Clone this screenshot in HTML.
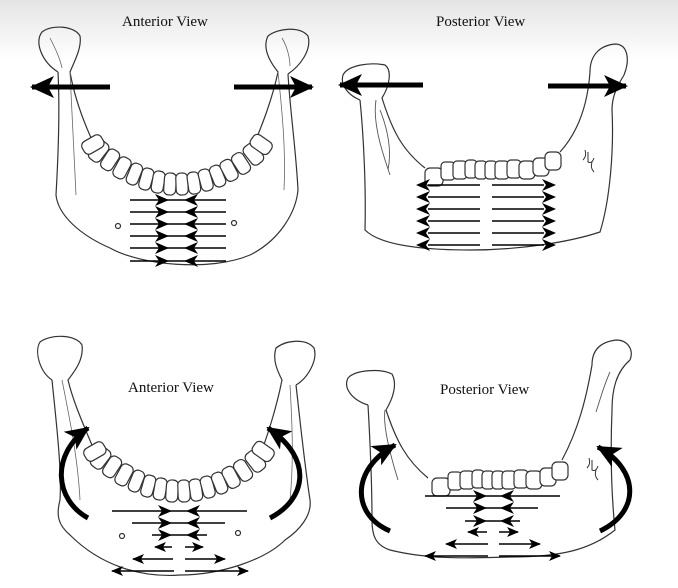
<!DOCTYPE html>
<html><head><meta charset="utf-8"><style>
html,body{margin:0;padding:0;background:#fff;}
body{width:678px;height:588px;overflow:hidden;position:relative;}
.bg{position:absolute;left:0;top:0;width:678px;height:60px;background:linear-gradient(#e4e4e4,#fff);}
svg{position:absolute;left:0;top:0;}
text{font-family:"Liberation Serif","DejaVu Serif",serif;font-weight:normal;font-size:15px;fill:#111;stroke:none;}
</style></head><body>
<div class="bg"></div>
<svg width="678" height="588" viewBox="0 0 678 588" fill="none" stroke="#333" stroke-width="1.2">
<defs>
<marker id="ah" markerWidth="12" markerHeight="10" refX="11" refY="5" orient="auto" markerUnits="userSpaceOnUse"><path d="M0,0 L12,5 L0,10 L3,5 z" fill="#000" stroke="none"/></marker>
<marker id="big" markerWidth="24" markerHeight="22" refX="22" refY="11" orient="auto" markerUnits="userSpaceOnUse"><path d="M0,0 L24,11 L0,22 L6,11 z" fill="#000" stroke="none"/></marker>
<path id="hr" d="M-2,-6 L12,0 L-2,6 L2,0 z" fill="#000" stroke="none"/>
<path id="hl" d="M2,-6 L-12,0 L2,6 L-2,0 z" fill="#000" stroke="none"/>
<g id="teethA" fill="#fff">
<rect x="-7" y="-12" width="14" height="22" rx="5" transform="translate(98,152) rotate(38)"/>
<rect x="-7" y="-12" width="14" height="22" rx="5" transform="translate(92,145) rotate(60)"/>
<rect x="-7" y="-12" width="13" height="22" rx="5" transform="translate(110,161) rotate(33)"/>
<rect x="-7" y="-12" width="13" height="22" rx="5" transform="translate(122,169) rotate(28)"/>
<rect x="-6" y="-12" width="12" height="22" rx="5" transform="translate(134,175) rotate(22)"/>
<rect x="-6" y="-12" width="12" height="22" rx="5" transform="translate(146,180) rotate(16)"/>
<rect x="-6" y="-12" width="12" height="22" rx="5" transform="translate(158,183) rotate(10)"/>
<rect x="-6" y="-12" width="12" height="22" rx="5" transform="translate(170,185) rotate(4)"/>
<rect x="-6" y="-12" width="12" height="22" rx="5" transform="translate(182,185) rotate(-2)"/>
<rect x="-6" y="-12" width="12" height="22" rx="5" transform="translate(194,184) rotate(-8)"/>
<rect x="-6" y="-12" width="12" height="22" rx="5" transform="translate(206,181) rotate(-15)"/>
<rect x="-6" y="-12" width="12" height="22" rx="5" transform="translate(218,177) rotate(-22)"/>
<rect x="-7" y="-12" width="13" height="22" rx="5" transform="translate(230,171) rotate(-28)"/>
<rect x="-7" y="-12" width="13" height="22" rx="5" transform="translate(242,164) rotate(-33)"/>
<rect x="-7" y="-12" width="14" height="22" rx="5" transform="translate(254,155) rotate(-38)"/>
<rect x="-7" y="-12" width="14" height="22" rx="5" transform="translate(262,145) rotate(-55)"/>
</g>
<g id="teethP" fill="#fff">
<rect x="0" y="0" width="18" height="18" rx="5"/>
<rect x="16" y="-6" width="14" height="18" rx="4"/>
<rect x="28" y="-7" width="14" height="18" rx="4"/>
<rect x="40" y="-8" width="12" height="18" rx="4"/>
<rect x="50" y="-7" width="12" height="18" rx="4"/>
<rect x="60" y="-7" width="12" height="18" rx="4"/>
<rect x="70" y="-7" width="14" height="18" rx="4"/>
<rect x="82" y="-8" width="14" height="18" rx="4"/>
<rect x="94" y="-7" width="16" height="18" rx="5"/>
<rect x="108" y="-10" width="16" height="18" rx="5"/>
<rect x="120" y="-16" width="16" height="18" rx="5"/>
</g>
</defs>

<text x="122" y="26">Anterior View</text>
<text x="436" y="26">Posterior View</text>
<text x="128" y="392">Anterior View</text>
<text x="440" y="394">Posterior View</text>

<!-- Top-left anterior -->
<path d="M58,72 C42,62 34,42 42,32 C52,24 75,26 80,36 C82,48 74,62 70,72 C74,95 82,118 92,140"/>
<path d="M58,72 C60,110 58,160 56,195 C58,215 80,235 110,248 C140,265 210,272 250,255 C280,240 296,212 298,190 C296,150 290,110 288,74"/>
<path d="M288,74 C300,66 312,50 308,36 C300,26 278,28 268,36 C262,48 270,62 278,72 C272,100 262,125 255,142"/>
<path d="M70,72 C72,110 74,150 76,195 M278,72 C282,110 286,150 284,190 M50,38 C55,48 60,58 62,68 M282,38 C288,48 290,60 290,66" stroke="#666" stroke-width="0.8"/>
<use href="#teethA"/>
<circle cx="118" cy="226" r="2.5"/><circle cx="234" cy="223" r="2.5"/>
<g stroke="#000" stroke-width="1.4">
<path d="M130,200 h96 M130,212 h96 M130,224 h96 M130,236 h96 M130,248 h96 M130,261 h96"/>
</g>
<g>
<use href="#hr" x="157" y="200"/><use href="#hr" x="157" y="212"/><use href="#hr" x="157" y="224"/><use href="#hr" x="157" y="236"/><use href="#hr" x="157" y="248"/><use href="#hr" x="157" y="261"/>
<use href="#hl" x="196" y="200"/><use href="#hl" x="196" y="212"/><use href="#hl" x="196" y="224"/><use href="#hl" x="196" y="236"/><use href="#hl" x="196" y="248"/><use href="#hl" x="196" y="261"/>
</g>
<line x1="110" y1="87" x2="32" y2="87" stroke="#000" stroke-width="5" marker-end="url(#big)"/>
<line x1="234" y1="87" x2="312" y2="87" stroke="#000" stroke-width="5" marker-end="url(#big)"/>

<!-- Top-right posterior -->
<path d="M360,100 C348,95 340,85 343,75 C348,65 370,62 385,65 C392,70 390,85 382,98 C392,130 402,150 425,168"/>
<path d="M360,100 C364,140 366,190 365,230 C380,245 420,250 470,250 C520,250 570,242 600,232 C610,200 614,150 612,110 C612,95 618,85 624,75"/>
<path d="M624,75 C630,60 628,45 616,44 C600,45 590,55 590,72 C588,100 580,130 560,152"/>
<path d="M376,100 C372,125 385,160 390,175 M380,110 C388,130 392,150 388,170" stroke="#555" stroke-width="0.9"/>
<use href="#teethP" transform="translate(425,168)"/>
<path d="M583,160 q4,-4 2,-10 M588,152 v10 q4,2 6,-4 M592,162 q-2,6 2,10" stroke-width="1"/>
<g stroke="#000" stroke-width="1.4">
<path d="M428,185 h52 M428,197 h52 M428,209 h52 M428,221 h52 M428,233 h52 M428,245 h52 M492,185 h52 M492,197 h52 M492,209 h52 M492,221 h52 M492,233 h52 M492,245 h52"/>
</g>
<g>
<use href="#hl" x="428" y="185"/><use href="#hl" x="428" y="197"/><use href="#hl" x="428" y="209"/><use href="#hl" x="428" y="221"/><use href="#hl" x="428" y="233"/><use href="#hl" x="428" y="245"/>
<use href="#hr" x="544" y="185"/><use href="#hr" x="544" y="197"/><use href="#hr" x="544" y="209"/><use href="#hr" x="544" y="221"/><use href="#hr" x="544" y="233"/><use href="#hr" x="544" y="245"/>
</g>
<line x1="423" y1="85" x2="340" y2="85" stroke="#000" stroke-width="5" marker-end="url(#big)"/>
<line x1="548" y1="86" x2="626" y2="86" stroke="#000" stroke-width="5" marker-end="url(#big)"/>

<!-- Bottom-left anterior -->
<path d="M52,380 C40,372 34,352 40,342 C50,334 76,334 82,345 C84,360 74,372 68,380 C74,405 86,430 96,455"/>
<path d="M52,380 C56,420 62,470 60,500 C56,515 58,525 70,535 C100,565 140,578 180,575 C220,575 265,560 285,540 C300,530 312,515 310,500 C304,460 300,420 296,385"/>
<path d="M296,385 C308,378 318,360 314,348 C306,338 286,340 276,348 C272,360 278,372 282,380 C276,410 266,440 260,455"/>
<path d="M62,380 C70,420 78,460 80,500 M290,385 C292,420 294,460 290,500" stroke="#666" stroke-width="0.8"/>
<use href="#teethA" transform="translate(2,307)"/>
<circle cx="122" cy="536" r="2.5"/><circle cx="238" cy="533" r="2.5"/>
<g stroke="#000" stroke-width="1.4">
<path d="M112,511 h135 M132,523 h93 M152,535 h55"/>
</g>
<g>
<use href="#hr" x="160" y="511"/><use href="#hr" x="160" y="523"/><use href="#hr" x="160" y="535"/>
<use href="#hl" x="198" y="511"/><use href="#hl" x="198" y="523"/><use href="#hl" x="198" y="535"/>
</g>
<g stroke="#000" stroke-width="1.6">
<line x1="172" y1="547" x2="155" y2="547" marker-end="url(#ah)"/><line x1="185" y1="547" x2="203" y2="547" marker-end="url(#ah)"/>
<line x1="173" y1="559" x2="133" y2="559" marker-end="url(#ah)"/><line x1="185" y1="559" x2="225" y2="559" marker-end="url(#ah)"/>
<line x1="174" y1="571" x2="112" y2="571" marker-end="url(#ah)"/><line x1="185" y1="571" x2="248" y2="571" marker-end="url(#ah)"/>
</g>
<path d="M88,518 C55,500 50,455 88,428" stroke="#000" stroke-width="5" marker-end="url(#big)"/>
<path d="M270,518 C305,500 315,460 268,428" stroke="#000" stroke-width="5" marker-end="url(#big)"/>

<!-- Bottom-right posterior -->
<path d="M368,405 C352,400 343,388 348,378 C355,370 380,368 392,374 C398,385 392,400 386,410 C396,440 406,460 428,478"/>
<path d="M368,405 C370,440 372,480 372,520 C372,535 375,545 390,550 C430,560 470,558 510,557 C560,557 590,550 615,530 C612,500 610,460 612,410 C612,390 616,372 630,360"/>
<path d="M630,360 C634,350 628,340 616,340 C600,342 592,350 592,365 C586,400 578,430 562,460"/>
<path d="M385,410 C382,430 395,470 398,480 M610,372 C604,385 600,400 596,412" stroke="#555" stroke-width="0.9"/>
<use href="#teethP" transform="translate(432,478)"/>
<path d="M587,468 q4,-4 2,-10 M592,460 v10 q4,2 6,-4 M596,470 q-2,6 2,10" stroke-width="1"/>
<g stroke="#000" stroke-width="1.4">
<path d="M425,496 h135 M446,508 h92 M465,521 h55"/>
</g>
<g>
<use href="#hr" x="475" y="496"/><use href="#hr" x="475" y="508"/><use href="#hr" x="475" y="521"/>
<use href="#hl" x="512" y="496"/><use href="#hl" x="512" y="508"/><use href="#hl" x="512" y="521"/>
</g>
<g stroke="#000" stroke-width="1.6">
<line x1="487" y1="532" x2="468" y2="532" marker-end="url(#ah)"/><line x1="499" y1="532" x2="518" y2="532" marker-end="url(#ah)"/>
<line x1="488" y1="544" x2="446" y2="544" marker-end="url(#ah)"/><line x1="499" y1="544" x2="540" y2="544" marker-end="url(#ah)"/>
<line x1="488" y1="556" x2="425" y2="556" marker-end="url(#ah)"/><line x1="499" y1="556" x2="560" y2="556" marker-end="url(#ah)"/>
</g>
<path d="M390,531 C352,515 350,470 395,445" stroke="#000" stroke-width="5" marker-end="url(#big)"/>
<path d="M600,531 C640,512 640,470 598,447" stroke="#000" stroke-width="5" marker-end="url(#big)"/>
</svg>
</body></html>
